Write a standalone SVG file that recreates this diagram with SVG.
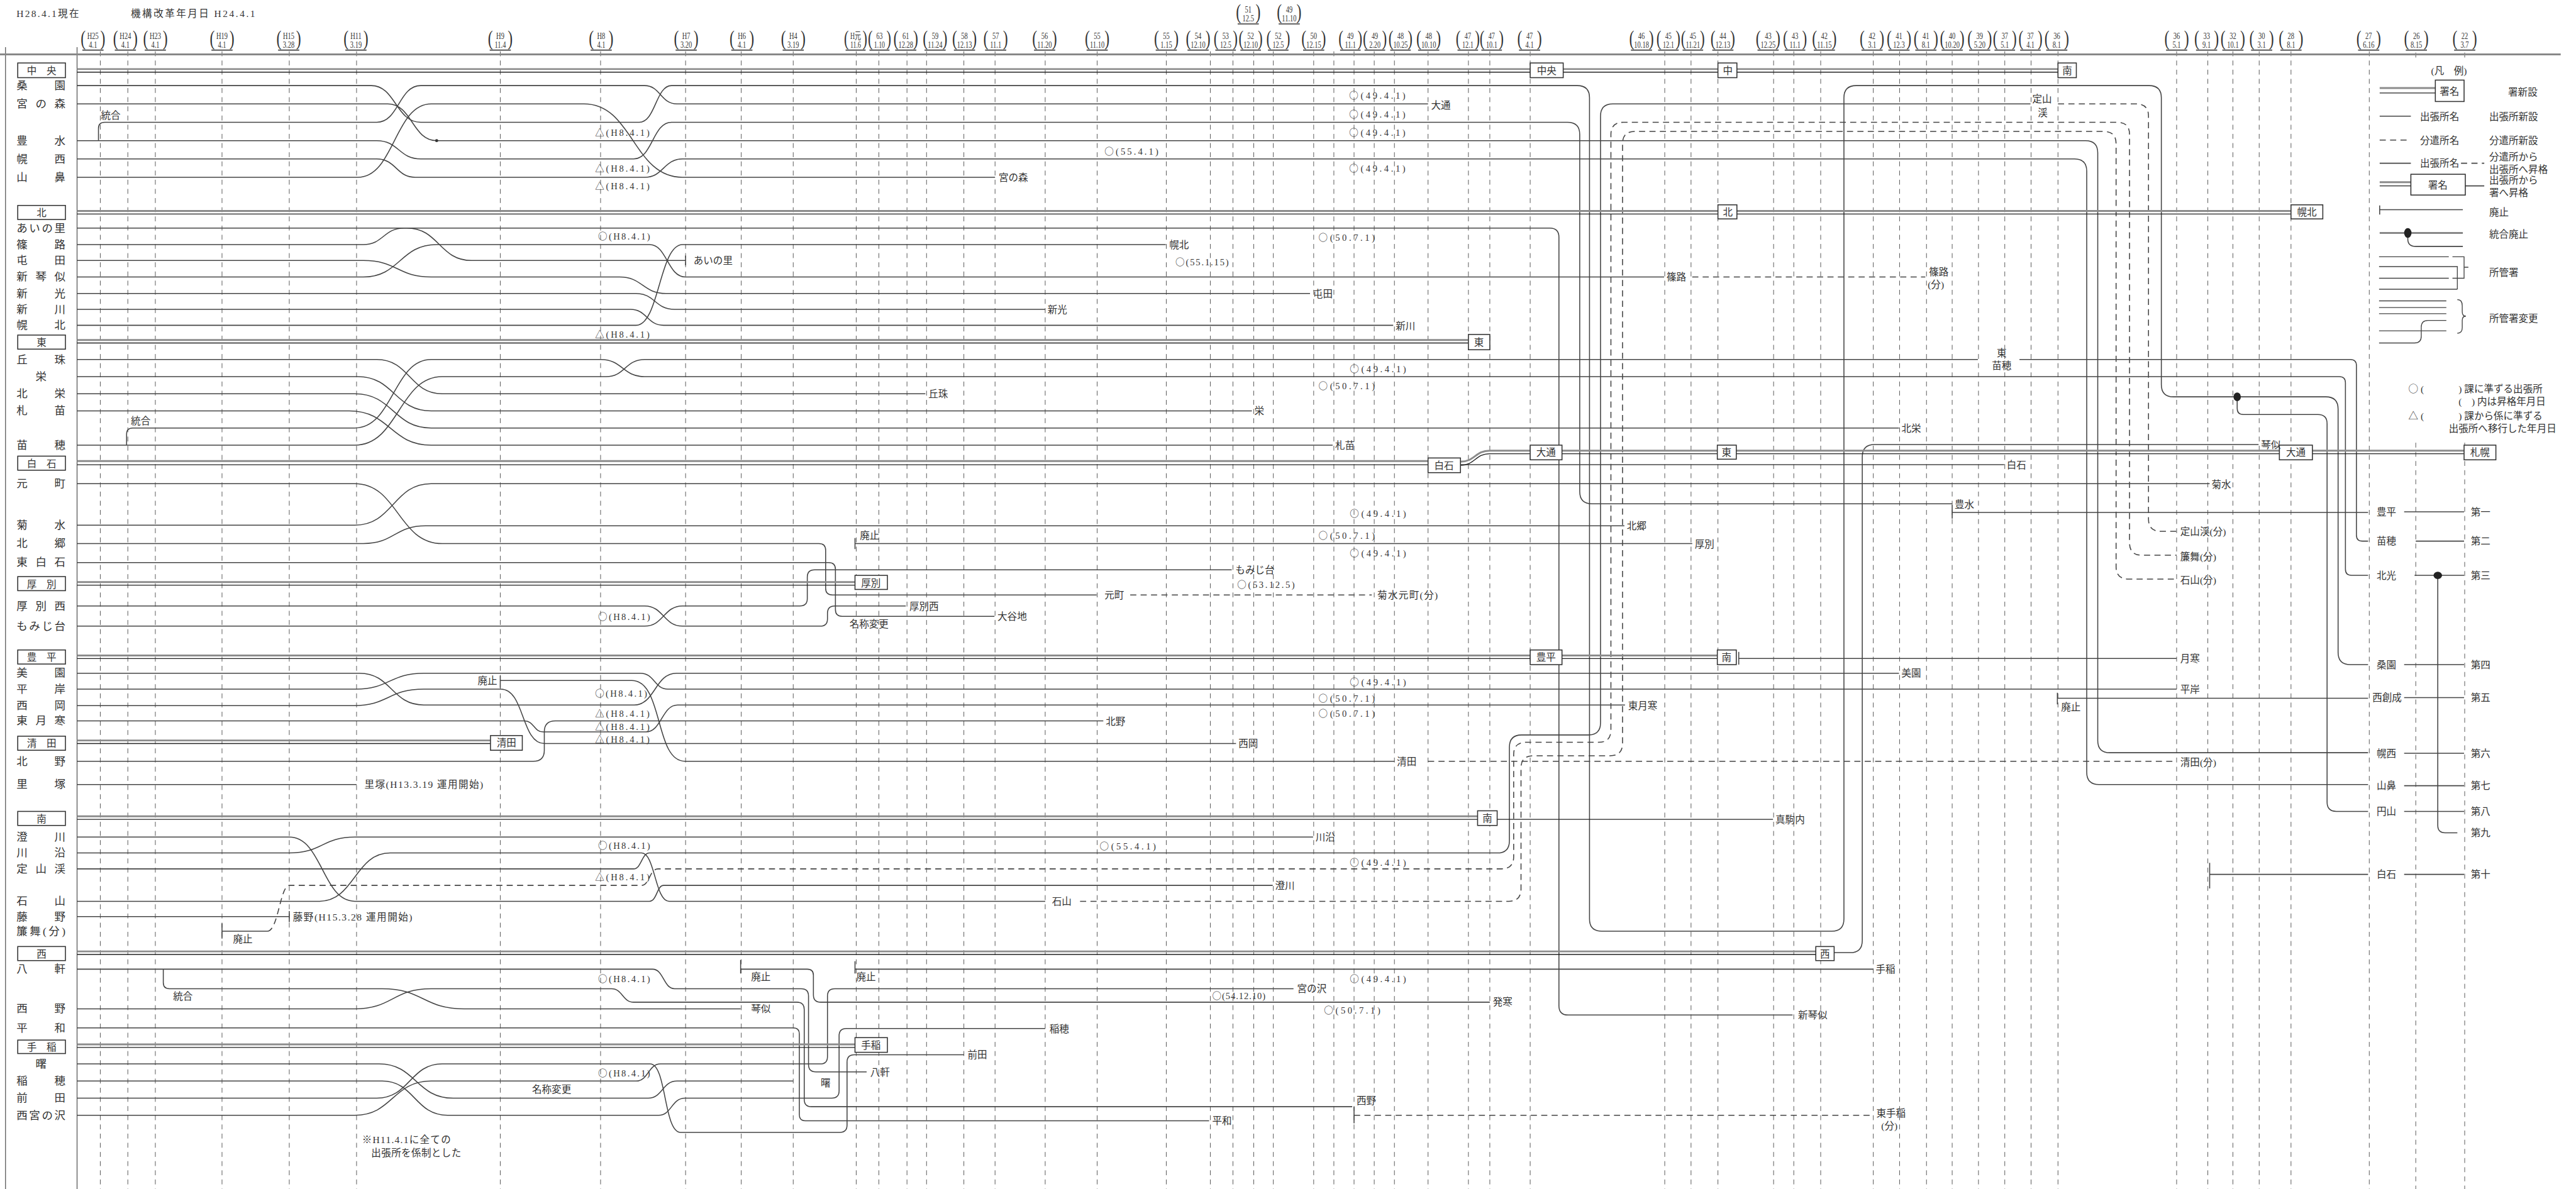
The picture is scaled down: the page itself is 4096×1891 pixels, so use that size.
<svg xmlns="http://www.w3.org/2000/svg" width="4096" height="1891" viewBox="0 0 4096 1891">
<style>
text{font-family:'Liberation Serif','Noto Sans CJK JP',serif;fill:#333;font-size:16px}
.cj{font-family:'Noto Sans CJK JP',sans-serif}
.g{stroke:#555;stroke-width:1;stroke-dasharray:8 7;fill:none}
.r path,.r line{stroke:#444;stroke-width:1.6;fill:none}
.d{stroke:#444;stroke-width:1.6;fill:none;stroke-dasharray:10 7}
.hg{stroke:#8c8c8c;stroke-width:3;fill:none}
.hb{stroke:#222;stroke-width:1.4;fill:none}
.bx{fill:#fff;stroke:#333;stroke-width:1.6}
.pl{font-size:34px}
.pr{font-size:34px;text-anchor:end}
.dt{font-size:15px;text-anchor:middle}
.ul{stroke:#777;stroke-width:2.5}
.lab{font-size:18px}
.c{text-anchor:middle}
.s{font-size:15px}
</style>
<defs>
<g id="dl"><text class="pl" x="-28" y="74">(</text><text class="pr" x="28" y="74">)</text><path class="ul" d="M-24,82H24"/></g>
</defs>
<rect width="4096" height="1891" fill="#fff"/>
<g transform="scale(0.972459)">
<g id="frame">
<path class="g" d="M164,84V1945M209,84V1945M254,84V1945M363,84V1945M473,84V1945M583,84V1945M818,84V1945M982,84V1945M1121,84V1945M1212,84V1945M1297,84V1945M1400,84V1945M1437,84V1945M1483,84V1945M1515,84V1945M1576,84V1945M1627,84V1945M1709,84V1945M1794,84V1945M1907,84V1945M1979,84V1945M2016,84V1945M2050,84V1945M2082,84V1945M2148,84V1945M2181,84V1945M2214,84V1945M2247,84V1945M2280,84V1945M2335,84V1945M2401,84V1945M2436,84V1945M2502,84V1945M2722,84V1945M2765,84V1945M2809,84V1945M2900,84V1945M2933,84V1945M2977,84V1945M3063,84V1945M3106,84V1945M3150,84V1945M3192,84V1945M3235,84V1945M3278,84V1945M3321,84V1945M3365,84V1945M3559,84V1945M3610,84V1945M3651,84V1945M3694,84V1945M3746,84V1945M3874,84V1945M3950,86V98M3950,724V1945M4030,86V98M4030,724V1945"/>
<path d="M9,77V1945M126,77V1945" stroke="#555" stroke-width="1.3" fill="none"/>
<path d="M0,89H4187" stroke="#888" stroke-width="3"/>
<text x="27" y="28" textLength="102">H28.4.1現在</text>
<text x="214" y="28" textLength="203">機構改革年月日 H24.4.1</text>
</g>
<g id="dates">
<g transform="translate(152,0) scale(0.72,1)"><use href="#dl"/><text class="dt" y="64">H25</text><text class="dt" y="78">4.1</text></g>
<g transform="translate(205,0) scale(0.72,1)"><use href="#dl"/><text class="dt" y="64">H24</text><text class="dt" y="78">4.1</text></g>
<g transform="translate(254,0) scale(0.72,1)"><use href="#dl"/><text class="dt" y="64">H23</text><text class="dt" y="78">4.1</text></g>
<g transform="translate(363,0) scale(0.72,1)"><use href="#dl"/><text class="dt" y="64">H19</text><text class="dt" y="78">4.1</text></g>
<g transform="translate(472,0) scale(0.72,1)"><use href="#dl"/><text class="dt" y="64">H15</text><text class="dt" y="78">3.28</text></g>
<g transform="translate(582,0) scale(0.72,1)"><use href="#dl"/><text class="dt" y="64">H11</text><text class="dt" y="78">3.19</text></g>
<g transform="translate(818,0) scale(0.72,1)"><use href="#dl"/><text class="dt" y="64">H9</text><text class="dt" y="78">11.4</text></g>
<g transform="translate(983,0) scale(0.72,1)"><use href="#dl"/><text class="dt" y="64">H8</text><text class="dt" y="78">4.1</text></g>
<g transform="translate(1122,0) scale(0.72,1)"><use href="#dl"/><text class="dt" y="64">H7</text><text class="dt" y="78">3.20</text></g>
<g transform="translate(1213,0) scale(0.72,1)"><use href="#dl"/><text class="dt" y="64">H6</text><text class="dt" y="78">4.1</text></g>
<g transform="translate(1297,0) scale(0.72,1)"><use href="#dl"/><text class="dt" y="64">H4</text><text class="dt" y="78">3.19</text></g>
<g transform="translate(1399,0) scale(0.68,1)"><use href="#dl"/><text class="dt" y="64">H元</text><text class="dt" y="78">11.6</text></g>
<g transform="translate(1438,0) scale(0.68,1)"><use href="#dl"/><text class="dt" y="64">63</text><text class="dt" y="78">1.10</text></g>
<g transform="translate(1481,0) scale(0.72,1)"><use href="#dl"/><text class="dt" y="64">61</text><text class="dt" y="78">12.28</text></g>
<g transform="translate(1529,0) scale(0.72,1)"><use href="#dl"/><text class="dt" y="64">59</text><text class="dt" y="78">11.24</text></g>
<g transform="translate(1577,0) scale(0.72,1)"><use href="#dl"/><text class="dt" y="64">58</text><text class="dt" y="78">12.13</text></g>
<g transform="translate(1628,0) scale(0.72,1)"><use href="#dl"/><text class="dt" y="64">57</text><text class="dt" y="78">11.1</text></g>
<g transform="translate(1708,0) scale(0.72,1)"><use href="#dl"/><text class="dt" y="64">56</text><text class="dt" y="78">11.20</text></g>
<g transform="translate(1794,0) scale(0.72,1)"><use href="#dl"/><text class="dt" y="64">55</text><text class="dt" y="78">11.10</text></g>
<g transform="translate(1907,0) scale(0.72,1)"><use href="#dl"/><text class="dt" y="64">55</text><text class="dt" y="78">1.15</text></g>
<g transform="translate(1959,0) scale(0.72,1)"><use href="#dl"/><text class="dt" y="64">54</text><text class="dt" y="78">12.10</text></g>
<g transform="translate(2004,0) scale(0.7,1)"><use href="#dl"/><text class="dt" y="64">53</text><text class="dt" y="78">12.5</text></g>
<g transform="translate(2045,0) scale(0.7,1)"><use href="#dl"/><text class="dt" y="64">52</text><text class="dt" y="78">12.10</text></g>
<g transform="translate(2090,0) scale(0.7,1)"><use href="#dl"/><text class="dt" y="64">52</text><text class="dt" y="78">12.5</text></g>
<g transform="translate(2148,0) scale(0.72,1)"><use href="#dl"/><text class="dt" y="64">50</text><text class="dt" y="78">12.15</text></g>
<g transform="translate(2208,0) scale(0.7,1)"><use href="#dl"/><text class="dt" y="64">49</text><text class="dt" y="78">11.1</text></g>
<g transform="translate(2248,0) scale(0.7,1)"><use href="#dl"/><text class="dt" y="64">49</text><text class="dt" y="78">2.20</text></g>
<g transform="translate(2290,0) scale(0.7,1)"><use href="#dl"/><text class="dt" y="64">48</text><text class="dt" y="78">10.25</text></g>
<g transform="translate(2336,0) scale(0.72,1)"><use href="#dl"/><text class="dt" y="64">48</text><text class="dt" y="78">10.10</text></g>
<g transform="translate(2400,0) scale(0.7,1)"><use href="#dl"/><text class="dt" y="64">47</text><text class="dt" y="78">12.1</text></g>
<g transform="translate(2439,0) scale(0.7,1)"><use href="#dl"/><text class="dt" y="64">47</text><text class="dt" y="78">10.1</text></g>
<g transform="translate(2501,0) scale(0.72,1)"><use href="#dl"/><text class="dt" y="64">47</text><text class="dt" y="78">4.1</text></g>
<g transform="translate(2684,0) scale(0.72,1)"><use href="#dl"/><text class="dt" y="64">46</text><text class="dt" y="78">10.18</text></g>
<g transform="translate(2728,0) scale(0.7,1)"><use href="#dl"/><text class="dt" y="64">45</text><text class="dt" y="78">12.1</text></g>
<g transform="translate(2768,0) scale(0.7,1)"><use href="#dl"/><text class="dt" y="64">45</text><text class="dt" y="78">11.21</text></g>
<g transform="translate(2817,0) scale(0.72,1)"><use href="#dl"/><text class="dt" y="64">44</text><text class="dt" y="78">12.13</text></g>
<g transform="translate(2891,0) scale(0.72,1)"><use href="#dl"/><text class="dt" y="64">43</text><text class="dt" y="78">12.25</text></g>
<g transform="translate(2935,0) scale(0.7,1)"><use href="#dl"/><text class="dt" y="64">43</text><text class="dt" y="78">11.1</text></g>
<g transform="translate(2983,0) scale(0.72,1)"><use href="#dl"/><text class="dt" y="64">42</text><text class="dt" y="78">11.15</text></g>
<g transform="translate(3061,0) scale(0.72,1)"><use href="#dl"/><text class="dt" y="64">42</text><text class="dt" y="78">3.1</text></g>
<g transform="translate(3105,0) scale(0.72,1)"><use href="#dl"/><text class="dt" y="64">41</text><text class="dt" y="78">12.3</text></g>
<g transform="translate(3149,0) scale(0.72,1)"><use href="#dl"/><text class="dt" y="64">41</text><text class="dt" y="78">8.1</text></g>
<g transform="translate(3192,0) scale(0.72,1)"><use href="#dl"/><text class="dt" y="64">40</text><text class="dt" y="78">10.20</text></g>
<g transform="translate(3237,0) scale(0.72,1)"><use href="#dl"/><text class="dt" y="64">39</text><text class="dt" y="78">5.20</text></g>
<g transform="translate(3278,0) scale(0.7,1)"><use href="#dl"/><text class="dt" y="64">37</text><text class="dt" y="78">5.1</text></g>
<g transform="translate(3320,0) scale(0.7,1)"><use href="#dl"/><text class="dt" y="64">37</text><text class="dt" y="78">4.1</text></g>
<g transform="translate(3363,0) scale(0.72,1)"><use href="#dl"/><text class="dt" y="64">36</text><text class="dt" y="78">8.1</text></g>
<g transform="translate(3559,0) scale(0.72,1)"><use href="#dl"/><text class="dt" y="64">36</text><text class="dt" y="78">5.1</text></g>
<g transform="translate(3608,0) scale(0.72,1)"><use href="#dl"/><text class="dt" y="64">33</text><text class="dt" y="78">9.1</text></g>
<g transform="translate(3651,0) scale(0.72,1)"><use href="#dl"/><text class="dt" y="64">32</text><text class="dt" y="78">10.1</text></g>
<g transform="translate(3698,0) scale(0.72,1)"><use href="#dl"/><text class="dt" y="64">30</text><text class="dt" y="78">3.1</text></g>
<g transform="translate(3746,0) scale(0.72,1)"><use href="#dl"/><text class="dt" y="64">28</text><text class="dt" y="78">8.1</text></g>
<g transform="translate(3873,0) scale(0.72,1)"><use href="#dl"/><text class="dt" y="64">27</text><text class="dt" y="78">6.16</text></g>
<g transform="translate(3951,0) scale(0.72,1)"><use href="#dl"/><text class="dt" y="64">26</text><text class="dt" y="78">8.15</text></g>
<g transform="translate(4030,0) scale(0.72,1)"><use href="#dl"/><text class="dt" y="64">22</text><text class="dt" y="78">3.7</text></g>
<g transform="translate(2041,-43) scale(0.72,1)"><use href="#dl"/><text class="dt" y="64">51</text><text class="dt" y="78">12.5</text></g>
<g transform="translate(2108,-43) scale(0.72,1)"><use href="#dl"/><text class="dt" y="64">49</text><text class="dt" y="78">11.10</text></g>
</g>
<g id="connectors" class="r">
<path d="M126,140H607C647,140 647,200 688,200H1045C1072,200 1072,140 1098,140H2579Q2599,140 2599,160V1503Q2599,1523 2619,1523H2995Q3015,1523 3015,1503V160Q3015,140 3035,140H3514Q3534,140 3534,160V629Q3534,649 3554,649H3803Q3823,649 3823,669V1067Q3823,1087 3843,1087H3872"/>
<path d="M3658,649V668Q3658,678 3668,678H3790Q3805,678 3805,693V1312Q3805,1327 3820,1327H3872"/>
<path d="M126,170H634C674,170 674,230 714,230H3410Q3430,230 3430,250V1211Q3430,1231 3450,1231H3872"/>
<path d="M161,230V210Q161,200 171,200H616C652,200 652,140 688,140H1054C1080,140 1080,170 1107,170H2335"/>
<path d="M126,230H616C652,230 652,260 688,260H1036C1067,260 1067,200 1098,200H2563Q2583,200 2583,220V804Q2583,824 2603,824H3192M3192,826V848M3192,838H3872"/>
<path d="M126,260H616C648,260 648,290 679,290H1054C1085,290 1085,260 1116,260H3392Q3412,260 3412,280V1263Q3412,1283 3432,1283H3872"/>
<path d="M126,290H585C645,290 645,170 705,170H955C1035,170 1035,290 1116,290H1627"/>
<path d="M126,1421H1036C1049,1421 1049,1395 1062,1395H2448Q2468,1395 2468,1375V1222Q2468,1202 2488,1202H2597Q2617,1202 2617,1182V190Q2617,170 2637,170H3320"/>
<path class="d" d="M3365,170H3493Q3513,170 3513,190V849Q3513,869 3533,869H3559"/>
<path d="M363,1510V1535M363,1523H437"/>
<path class="d" d="M437,1523C455,1523 458,1448 473,1448H1049C1062,1448 1062,1421 1076,1421H2455Q2475,1421 2475,1401V1234Q2475,1214 2495,1214H2614Q2634,1214 2634,1194V220Q2634,200 2654,200H3462Q3482,200 3482,220V888Q3482,908 3502,908H3559"/>
<path class="d" d="M1766,1474H2467Q2487,1474 2487,1454V1256Q2487,1236 2507,1236H2633Q2653,1236 2653,1216V235Q2653,215 2673,215H3440Q3460,215 3460,235V927Q3460,947 3480,947H3559"/>
<path d="M126,373H665C718,373 718,426 771,426H1121M1121,418V434"/>
<path d="M126,400H594C627,400 627,373 661,373H2534Q2549,373 2549,388V1645Q2549,1660 2564,1660H2931"/>
<path d="M126,426H594C650,426 650,453 705,453H1013C1051,453 1051,480 1089,480H2142"/>
<path d="M126,453H594C654,453 654,400 714,400H1062C1091,400 1091,453 1121,453H2721"/>
<path class="d" d="M2767,453H3148"/>
<path d="M126,480H1040C1071,480 1071,506 1103,506H1709"/>
<path d="M126,506H1031C1058,506 1058,532 1085,532H2278"/>
<path d="M126,532H1040C1078,532 1078,400 1116,400H1906"/>
<path d="M126,588H616C670,588 670,644 723,644H1513"/>
<path d="M126,616H585C645,616 645,672 705,672H2047"/>
<path d="M126,644H580C643,644 643,700 705,700H3105"/>
<path d="M126,672H571C638,672 638,728 705,728H2179"/>
<path d="M207,728V710Q207,700 217,700H580C643,700 643,588 705,588H982C1018,588 1018,616 1054,616H3825Q3835,616 3835,626V931Q3835,941 3845,941H3872"/>
<path d="M126,728H580C652,728 652,616 723,616H991C1022,616 1022,588 1054,588H3234M3302,588H3843Q3853,588 3853,598V875Q3853,885 3863,885H3872"/>
<path d="M126,791H580C651,791 651,889 723,889H1339Q1350,889 1350,900V962Q1350,973 1361,973H1793"/>
<path class="d" d="M1848,973H2243"/>
<path d="M126,859H580C643,859 643,791 705,791H3613"/>
<path d="M126,889H594C645,889 645,860 696,860H2656"/>
<path d="M126,920H1355Q1366,920 1366,931V997Q1366,1008 1377,1008H1626"/>
<path d="M1398,880V898M1398,889H2767"/>
<path d="M126,1024H1054C1085,1024 1085,991 1116,991H1308Q1320,991 1320,979V944Q1320,932 1332,932H2014"/>
<path d="M126,991H1054C1085,991 1085,1024 1116,1024H1341Q1353,1024 1353,1012V1003Q1353,991 1365,991H1481"/>
<path d="M126,1101H588C640,1101 640,1153 693,1153H1037C1071,1153 1071,1101 1106,1101H3105"/>
<path d="M126,1127H582C637,1127 637,1101 693,1101H1047C1070,1101 1070,1127 1092,1127H3559"/>
<path d="M126,1154H578C635,1154 635,1127 693,1127H819C858,1127 852,1216 890,1216H2021"/>
<path d="M126,1179H858C873,1179 873,1197 888,1197H1056C1082,1197 1082,1153 1108,1153H2657"/>
<path d="M818,1105V1125M818,1113H1033C1085,1113 1070,1245 1120,1245H2280"/>
<path class="d" d="M2335,1245H3559"/>
<path d="M126,1245H872Q890,1245 890,1227V1197Q890,1179 908,1179H1804"/>
<path d="M126,1283H583"/>
<path d="M3364,1133V1152M3364,1142H3872"/>
<path d="M2843,1066V1087M2843,1077H3559"/>
<path d="M126,1369H473C527,1369 527,1474 580,1474H1062C1074,1474 1074,1448 1085,1448H2081"/>
<path d="M126,1395H473C527,1395 527,1369 580,1369H2147"/>
<path d="M126,1474H522C580,1474 580,1395 638,1395H1049C1071,1395 1071,1474 1094,1474H1709"/>
<path d="M126,1499H473M473,1490V1508"/>
<path d="M126,1585H1067C1085,1585 1085,1617 1103,1617H1310Q1322,1617 1322,1629V1741Q1322,1753 1334,1753H1417"/>
<path d="M267,1585V1607Q267,1617 277,1617H625C692,1617 692,1650 759,1650H1211"/>
<path d="M1211,1570V1592M1211,1585H1320Q1330,1585 1330,1595V1627Q1330,1639 1342,1639H2436"/>
<path d="M126,1650H580C642,1650 642,1617 705,1617H1000C1018,1617 1018,1639 1036,1639H1303Q1315,1639 1315,1651V1798Q1315,1810 1327,1810H2211M2214,1810V1837"/>
<path class="d" d="M2214,1824H3059"/>
<path d="M126,1681H1297Q1307,1681 1307,1691V1823Q1307,1833 1317,1833H1977"/>
<path d="M1398,1572V1592M1398,1585H3063"/>
<path d="M126,1740H620C680,1740 680,1796 741,1796H1060C1083,1796 1083,1768 1107,1768H1297"/>
<path d="M126,1768H625C678,1768 678,1824 732,1824H1077C1098,1824 1098,1796 1120,1796H1360Q1372,1796 1372,1784V1694Q1372,1682 1384,1682H1709"/>
<path d="M126,1796H616C670,1796 670,1740 723,1740H1063C1090,1740 1085,1852 1113,1852H1373Q1385,1852 1385,1840V1737Q1385,1725 1397,1725H1576"/>
<path d="M126,1824H580C642,1824 642,1768 705,1768H1040C1060,1768 1060,1740 1080,1740H1341Q1353,1740 1353,1728V1629Q1353,1617 1365,1617H2115"/>
<path d="M2999,1558H3025Q3045,1558 3045,1538V747Q3045,727 3065,727H3693"/>
<path d="M2388,760H3277"/>
<path d="M3931,837H4029M3950,885H4029M3948,941H4029M3986,941V1350Q3986,1362 3998,1362H4018M3931,1087H4029M3931,1141H4029M3931,1232H4029M3931,1285H4029M3931,1327H4029M3931,1430H4029"/>
<path d="M3613,1411V1453M3613,1430H3872"/>
<circle cx="714" cy="230" r="2.5" fill="#333"/>
<ellipse cx="3658" cy="649" rx="6" ry="7" fill="#222"/>
<ellipse cx="3986" cy="941" rx="7" ry="6" fill="#222"/>
</g>
<g id="headers">
<path class="hg" d="M126,113H2502M2556,113H2809M2840,113H3365M126,345H2809M2840,345H3746M126,556H2401M126,754H2335M2388,755C2412,755 2412,737 2436,737H2502M2554,737H2808M2839,737H3727M3781,737H4029M126,952H1398M126,1072H2502M2554,1072H2808M126,1211H802M126,1335H2416M126,1556H2969M126,1708H1398"/>
<path class="hb" d="M126,118H2502M2556,118H2809M2840,118H3365M126,350H2809M2840,350H3746M126,561H2401M126,760H2335M2388,761C2412,761 2412,742 2436,742H2502M2554,742H2808M2839,742H3727M3781,742H4029M126,957H1398M126,1077H2502M2554,1077H2808M126,1216H802M126,1340H2416M2448,1340H2899M126,1561H2969M126,1713H1398"/>
</g>
<g id="boxes">
<g id="n-chuo"><rect class="bx" x="29" y="103" width="78" height="24"/><text x="44" y="121" textLength="48" lengthAdjust="spacing">中央</text></g>
<g id="n-kita"><rect class="bx" x="29" y="336" width="78" height="23"/><text class="c" x="68" y="354">北</text></g>
<g id="n-higashi"><rect class="bx" x="29" y="548" width="78" height="23"/><text class="c" x="68" y="566">東</text></g>
<g id="n-shiroishi"><rect class="bx" x="29" y="746" width="78" height="23"/><text x="44" y="764" textLength="48" lengthAdjust="spacing">白石</text></g>
<g id="n-atsubetsu"><rect class="bx" x="29" y="943" width="78" height="23"/><text x="44" y="961" textLength="48" lengthAdjust="spacing">厚別</text></g>
<g id="n-toyohira"><rect class="bx" x="29" y="1063" width="78" height="23"/><text x="44" y="1081" textLength="48" lengthAdjust="spacing">豊平</text></g>
<g id="n-kiyota"><rect class="bx" x="29" y="1204" width="78" height="23"/><text x="44" y="1222" textLength="48" lengthAdjust="spacing">清田</text></g>
<g id="n-minami"><rect class="bx" x="29" y="1327" width="78" height="23"/><text class="c" x="68" y="1345">南</text></g>
<g id="n-nishi"><rect class="bx" x="29" y="1548" width="78" height="23"/><text class="c" x="68" y="1566">西</text></g>
<g id="n-teine"><rect class="bx" x="29" y="1701" width="78" height="22"/><text x="44" y="1718" textLength="48" lengthAdjust="spacing">手稲</text></g>
<g id="n-chuo2"><rect class="bx" x="2502" y="103" width="54" height="24"/><text class="c" x="2529" y="121">中央</text></g>
<g id="n-naka"><rect class="bx" x="2809" y="103" width="31" height="24"/><text class="c" x="2825" y="121">中</text></g>
<g id="n-minami-old"><rect class="bx" x="3365" y="103" width="30" height="24"/><text class="c" x="3380" y="121">南</text></g>
<g id="n-kita2"><rect class="bx" x="2809" y="335" width="31" height="23"/><text class="c" x="2825" y="353">北</text></g>
<g id="n-horokita"><rect class="bx" x="3746" y="335" width="52" height="23"/><text class="c" x="3772" y="353">幌北</text></g>
<g id="n-higashi2"><rect class="bx" x="2401" y="547" width="35" height="25"/><text class="c" x="2418" y="566">東</text></g>
<g id="n-shiroishi2"><rect class="bx" x="2335" y="749" width="53" height="24"/><text class="c" x="2361" y="767">白石</text></g>
<g id="n-odori"><rect class="bx" x="2502" y="728" width="52" height="24"/><text class="c" x="2528" y="746">大通</text></g>
<g id="n-higashi3"><rect class="bx" x="2808" y="728" width="31" height="23"/><text class="c" x="2823" y="746">東</text></g>
<g id="n-odori2"><rect class="bx" x="3727" y="728" width="54" height="24"/><text class="c" x="3754" y="746">大通</text></g>
<g id="n-sapporo"><rect class="bx" x="4029" y="728" width="52" height="24"/><text class="c" x="4055" y="746">札幌</text></g>
<g id="n-atsubetsu2"><rect class="bx" x="1398" y="941" width="53" height="23"/><text class="c" x="1424" y="959">厚別</text></g>
<g id="n-toyohira2"><rect class="bx" x="2502" y="1063" width="52" height="24"/><text class="c" x="2528" y="1081">豊平</text></g>
<g id="n-minami2"><rect class="bx" x="2808" y="1063" width="31" height="24"/><text class="c" x="2823" y="1081">南</text></g>
<g id="n-kiyota2"><rect class="bx" x="802" y="1203" width="52" height="24"/><text class="c" x="828" y="1221">清田</text></g>
<g id="n-minami3"><rect class="bx" x="2416" y="1326" width="32" height="24"/><text class="c" x="2432" y="1344">南</text></g>
<g id="n-nishi2"><rect class="bx" x="2969" y="1548" width="30" height="23"/><text class="c" x="2984" y="1566">西</text></g>
<g id="n-teine2"><rect class="bx" x="1398" y="1697" width="53" height="24"/><text class="c" x="1424" y="1715">手稲</text></g>
</g>
<g id="left-labels">
<text class="lab" x="27" y="146" textLength="80" lengthAdjust="spacing">桑園</text>
<text class="lab" x="27" y="176" textLength="80" lengthAdjust="spacing">宮の森</text>
<text class="lab" x="27" y="236" textLength="80" lengthAdjust="spacing">豊水</text>
<text class="lab" x="27" y="266" textLength="80" lengthAdjust="spacing">幌西</text>
<text class="lab" x="27" y="296" textLength="80" lengthAdjust="spacing">山鼻</text>
<text class="lab" x="27" y="379" textLength="80" lengthAdjust="spacing">あいの里</text>
<text class="lab" x="27" y="406" textLength="80" lengthAdjust="spacing">篠路</text>
<text class="lab" x="27" y="432" textLength="80" lengthAdjust="spacing">屯田</text>
<text class="lab" x="27" y="459" textLength="80" lengthAdjust="spacing">新琴似</text>
<text class="lab" x="27" y="486" textLength="80" lengthAdjust="spacing">新光</text>
<text class="lab" x="27" y="512" textLength="80" lengthAdjust="spacing">新川</text>
<text class="lab" x="27" y="538" textLength="80" lengthAdjust="spacing">幌北</text>
<text class="lab" x="27" y="594" textLength="80" lengthAdjust="spacing">丘珠</text>
<text class="lab c" x="67" y="622">栄</text>
<text class="lab" x="27" y="650" textLength="80" lengthAdjust="spacing">北栄</text>
<text class="lab" x="27" y="678" textLength="80" lengthAdjust="spacing">札苗</text>
<text class="lab" x="27" y="734" textLength="80" lengthAdjust="spacing">苗穂</text>
<text class="lab" x="27" y="797" textLength="80" lengthAdjust="spacing">元町</text>
<text class="lab" x="27" y="865" textLength="80" lengthAdjust="spacing">菊水</text>
<text class="lab" x="27" y="895" textLength="80" lengthAdjust="spacing">北郷</text>
<text class="lab" x="27" y="926" textLength="80" lengthAdjust="spacing">東白石</text>
<text class="lab" x="27" y="997" textLength="80" lengthAdjust="spacing">厚別西</text>
<text class="lab" x="27" y="1030" textLength="80" lengthAdjust="spacing">もみじ台</text>
<text class="lab" x="27" y="1106" textLength="80" lengthAdjust="spacing">美園</text>
<text class="lab" x="27" y="1133" textLength="80" lengthAdjust="spacing">平岸</text>
<text class="lab" x="27" y="1160" textLength="80" lengthAdjust="spacing">西岡</text>
<text class="lab" x="27" y="1185" textLength="80" lengthAdjust="spacing">東月寒</text>
<text class="lab" x="27" y="1251" textLength="80" lengthAdjust="spacing">北野</text>
<text class="lab" x="27" y="1289" textLength="80" lengthAdjust="spacing">里塚</text>
<text class="lab" x="27" y="1375" textLength="80" lengthAdjust="spacing">澄川</text>
<text class="lab" x="27" y="1401" textLength="80" lengthAdjust="spacing">川沿</text>
<text class="lab" x="27" y="1427" textLength="80" lengthAdjust="spacing">定山渓</text>
<text class="lab" x="27" y="1480" textLength="80" lengthAdjust="spacing">石山</text>
<text class="lab" x="27" y="1505" textLength="80" lengthAdjust="spacing">藤野</text>
<text class="lab" x="27" y="1529" textLength="80" lengthAdjust="spacing">簾舞(分)</text>
<text class="lab" x="27" y="1591" textLength="80" lengthAdjust="spacing">八軒</text>
<text class="lab" x="27" y="1656" textLength="80" lengthAdjust="spacing">西野</text>
<text class="lab" x="27" y="1687" textLength="80" lengthAdjust="spacing">平和</text>
<text class="lab c" x="67" y="1746">曙</text>
<text class="lab" x="27" y="1774" textLength="80" lengthAdjust="spacing">稲穂</text>
<text class="lab" x="27" y="1802" textLength="80" lengthAdjust="spacing">前田</text>
<text class="lab" x="27" y="1830" textLength="80" lengthAdjust="spacing">西宮の沢</text>
</g>
<g id="row-labels">
<text x="165" y="194">統合</text>
<text x="214" y="694">統合</text>
<text x="283" y="1635">統合</text>
<text class="s" x="973" y="222" textLength="89"><tspan class="cj">△</tspan>(H8.4.1)</text>
<text class="s" x="973" y="281" textLength="89"><tspan class="cj">△</tspan>(H8.4.1)</text>
<text class="s" x="973" y="310" textLength="89"><tspan class="cj">△</tspan>(H8.4.1)</text>
<text class="s" x="978" y="392" textLength="85"><tspan class="cj">○</tspan>(H8.4.1)</text>
<text x="1134" y="432">あいの里</text>
<text class="s" x="973" y="552" textLength="89"><tspan class="cj">△</tspan>(H8.4.1)</text>
<text class="s" x="978" y="1014" textLength="85"><tspan class="cj">○</tspan>(H8.4.1)</text>
<text x="781" y="1119">廃止</text>
<text class="s" x="973" y="1139" textLength="85"><tspan class="cj">○</tspan>(H8.4.1)</text>
<text class="s" x="973" y="1172" textLength="89"><tspan class="cj">△</tspan>(H8.4.1)</text>
<text class="s" x="973" y="1194" textLength="89"><tspan class="cj">△</tspan>(H8.4.1)</text>
<text class="s" x="973" y="1214" textLength="89"><tspan class="cj">△</tspan>(H8.4.1)</text>
<text x="596" y="1289" textLength="194">里塚(H13.3.19 運用開始)</text>
<text class="s" x="978" y="1388" textLength="85"><tspan class="cj">○</tspan>(H8.4.1)</text>
<text class="s" x="973" y="1440" textLength="89"><tspan class="cj">△</tspan>(H8.4.1)</text>
<text x="479" y="1505" textLength="195">藤野(H15.3.28 運用開始)</text>
<text x="381" y="1541">廃止</text>
<text class="s" x="978" y="1606" textLength="85"><tspan class="cj">○</tspan>(H8.4.1)</text>
<text class="s" x="978" y="1760" textLength="85"><tspan class="cj">○</tspan>(H8.4.1)</text>
<text x="870" y="1787">名称変更</text>
<text x="592" y="1869" textLength="145">※H11.4.1に全ての</text>
<text x="607" y="1891" textLength="147">出張所を係制とした</text>
<text x="1228" y="1603">廃止</text>
<text x="1228" y="1656">琴似</text>
<text x="1400" y="1603">廃止</text>
<text x="1342" y="1777">曙</text>
<text x="1423" y="1759">八軒</text>
<text class="s" x="2206" y="161" textLength="92"><tspan class="cj">○</tspan>(49.4.1)</text>
<text class="s" x="2206" y="192" textLength="92"><tspan class="cj">○</tspan>(49.4.1)</text>
<text class="s" x="2206" y="222" textLength="92"><tspan class="cj">○</tspan>(49.4.1)</text>
<text class="s" x="2206" y="281" textLength="92"><tspan class="cj">○</tspan>(49.4.1)</text>
<text class="s" x="1806" y="253" textLength="88"><tspan class="cj">○</tspan>(55.4.1)</text>
<text x="2340" y="178">大通</text>
<text x="1633" y="296">宮の森</text>
<text x="3323" y="168">定山</text>
<text x="3332" y="190">渓</text>
<text x="1912" y="406">幌北</text>
<text class="s" x="1922" y="434" textLength="87"><tspan class="cj">○</tspan>(55.1.15)</text>
<text class="s" x="2156" y="394" textLength="92"><tspan class="cj">○</tspan>(50.7.1)</text>
<text x="2147" y="486">屯田</text>
<text x="1713" y="512">新光</text>
<text x="2282" y="539">新川</text>
<text x="2725" y="459">篠路</text>
<text x="3154" y="450">篠路</text>
<text x="3152" y="471">(分)</text>
<text x="1518" y="650">丘珠</text>
<text x="2051" y="678">栄</text>
<text x="2183" y="734">札苗</text>
<text x="3109" y="706">北栄</text>
<text class="s" x="2207" y="609" textLength="92"><tspan class="cj">○</tspan>(49.4.1)</text>
<text class="s" x="2156" y="637" textLength="92"><tspan class="cj">○</tspan>(50.7.1)</text>
<text class="c" x="3273" y="583">東</text>
<text class="c" x="3273" y="604">苗穂</text>
<text x="3281" y="766">白石</text>
<text x="3196" y="831">豊水</text>
<text class="s" x="2207" y="845" textLength="92"><tspan class="cj">○</tspan>(49.4.1)</text>
<text x="2660" y="866">北郷</text>
<text x="1406" y="881">廃止</text>
<text x="2771" y="896">厚別</text>
<text class="s" x="2156" y="881" textLength="92"><tspan class="cj">○</tspan>(50.7.1)</text>
<text class="s" x="2207" y="910" textLength="92"><tspan class="cj">○</tspan>(49.4.1)</text>
<text x="2020" y="938">もみじ台</text>
<text class="s" x="2023" y="961" textLength="94"><tspan class="cj">○</tspan>(53.12.5)</text>
<text x="1806" y="979">元町</text>
<text x="2252" y="979" textLength="99">菊水元町(分)</text>
<text x="1487" y="997">厚別西</text>
<text x="1631" y="1014">大谷地</text>
<text x="1389" y="1026">名称変更</text>
<text class="s" x="2207" y="1121" textLength="92"><tspan class="cj">○</tspan>(49.4.1)</text>
<text class="s" x="2156" y="1148" textLength="92"><tspan class="cj">○</tspan>(50.7.1)</text>
<text class="s" x="2156" y="1172" textLength="92"><tspan class="cj">○</tspan>(50.7.1)</text>
<text x="2662" y="1160">東月寒</text>
<text x="3109" y="1106">美園</text>
<text x="3370" y="1162">廃止</text>
<text x="1808" y="1186">北野</text>
<text x="2025" y="1222">西岡</text>
<text x="2284" y="1251">清田</text>
<text x="2151" y="1375">川沿</text>
<text class="s" x="1798" y="1389" textLength="92"><tspan class="cj">○</tspan>(55.4.1)</text>
<text class="s" x="2207" y="1416" textLength="92"><tspan class="cj">○</tspan>(49.4.1)</text>
<text x="2085" y="1454">澄川</text>
<text x="1720" y="1480">石山</text>
<text x="2903" y="1346">真駒内</text>
<text x="2121" y="1623">宮の沢</text>
<text class="s" x="2207" y="1606" textLength="92"><tspan class="cj">○</tspan>(49.4.1)</text>
<text class="s" x="1982" y="1634" textLength="87"><tspan class="cj">○</tspan>(54.12.10)</text>
<text x="2441" y="1644">発寒</text>
<text class="s" x="2165" y="1658" textLength="92"><tspan class="cj">○</tspan>(50.7.1)</text>
<text x="3067" y="1591">手稲</text>
<text x="2940" y="1666">新琴似</text>
<text x="1716" y="1688">稲穂</text>
<text x="1582" y="1731">前田</text>
<text x="2218" y="1806">西野</text>
<text x="1982" y="1839">平和</text>
<text x="3068" y="1826">東手稲</text>
<text x="3076" y="1847">(分)</text>
<text x="3697" y="733">琴似</text>
<text x="3616" y="798">菊水</text>
<text x="3565" y="875">定山渓(分)</text>
<text x="3565" y="916">簾舞(分)</text>
<text x="3565" y="954">石山(分)</text>
<text x="3565" y="1083">月寒</text>
<text x="3565" y="1133">平岸</text>
<text x="3565" y="1252">清田(分)</text>
<text x="3886" y="843">豊平</text>
<text x="3886" y="891">苗穂</text>
<text x="3886" y="947">北光</text>
<text x="3886" y="1093">桑園</text>
<text x="3879" y="1147">西創成</text>
<text x="3886" y="1238">幌西</text>
<text x="3886" y="1291">山鼻</text>
<text x="3886" y="1333">円山</text>
<text x="3886" y="1436">白石</text>
<text x="4040" y="843">第一</text>
<text x="4040" y="891">第二</text>
<text x="4040" y="947">第三</text>
<text x="4040" y="1093">第四</text>
<text x="4040" y="1147">第五</text>
<text x="4040" y="1238">第六</text>
<text x="4040" y="1291">第七</text>
<text x="4040" y="1333">第八</text>
<text x="4040" y="1368">第九</text>
<text x="4040" y="1436">第十</text>
</g>
<g id="legend">
<text x="3975" y="121">(凡　例)</text>
<path class="hg" d="M3891,144H3982M3891,298H3942"/>
<path class="hb" d="M3891,152H3982M3891,304H3942"/>
<rect class="bx" x="3982" y="131" width="47" height="35"/>
<text class="c" x="4005" y="155">署名</text>
<text x="4101" y="156">署新設</text>
<path d="M3891,190H3942M3891,267H3942M4031,304H4062M3891,343H4027M3891,336V351" stroke="#444" stroke-width="1.6"/>
<text x="3957" y="196">出張所名</text>
<text x="4070" y="196">出張所新設</text>
<path class="d" d="M3891,229H3942M4024,267H4062"/>
<text x="3957" y="235">分遣所名</text>
<text x="4070" y="235">分遣所新設</text>
<text x="3957" y="273">出張所名</text>
<text x="4070" y="262">分遣所から</text>
<text x="4070" y="283">出張所へ昇格</text>
<rect class="bx" x="3942" y="285" width="89" height="34"/>
<text class="c" x="3986" y="308">署名</text>
<text x="4070" y="300">出張所から</text>
<text x="4070" y="321">署へ昇格</text>
<text x="4070" y="353">廃止</text>
<path d="M3891,381H4027" stroke="#888" stroke-width="3"/>
<path d="M3937,381V391Q3937,403 3950,403H4027" stroke="#444" stroke-width="1.6" fill="none"/>
<ellipse cx="3937" cy="381" rx="6" ry="8" fill="#222"/>
<text x="4070" y="389">統合廃止</text>
<path d="M3890,420H4004M3890,436H4004M3890,455H4004M3890,473H4018M4010,420H4029V455H4010M4029,437H4036M4004,436H4018V473" stroke="#444" stroke-width="1.4" fill="none"/>
<text x="4070" y="451">所管署</text>
<path d="M3890,492H4000M3890,503H4000M3890,513H4000M3890,541H4000M4000,524H3970Q3959,524 3959,535V550Q3959,561 3948,561H3890M4018,490Q4026,490 4026,500V510Q4026,517 4032,517Q4026,517 4026,524V536Q4026,545 4018,545" stroke="#444" stroke-width="1.4" fill="none"/>
<text x="4070" y="526">所管署変更</text>
<text x="3938" y="642"><tspan class="cj">○</tspan> (</text>
<text x="4020" y="642">) 課に準ずる出張所</text>
<text x="4020" y="662">(　) 内は昇格年月日</text>
<text x="3938" y="686"><tspan class="cj">△</tspan> (</text>
<text x="4020" y="686">) 課から係に準ずる</text>
<text x="4004" y="706">出張所へ移行した年月日</text>
</g>
</g>
</svg>
